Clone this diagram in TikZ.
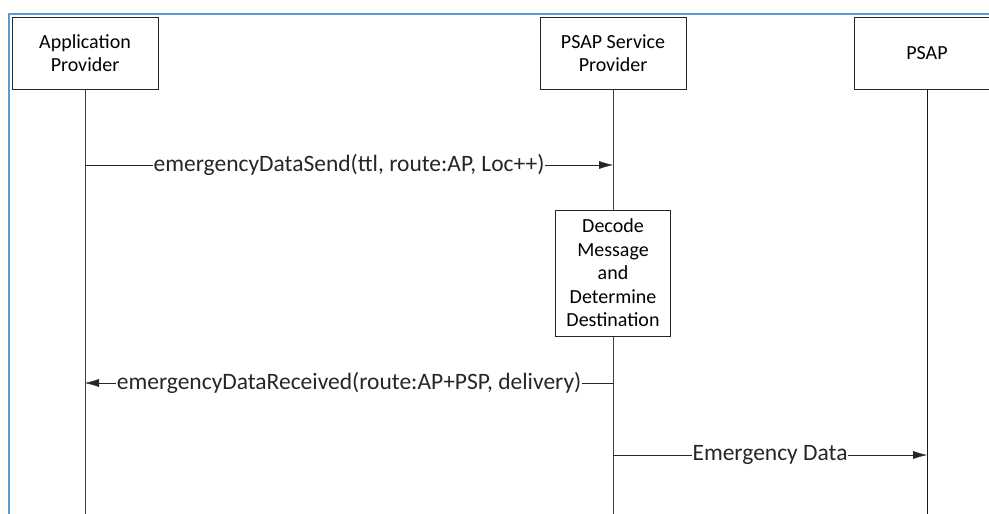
\documentclass[tikz,border=0pt]{standalone}
\usepackage{fontspec}
\setmainfont{Carlito}
\usetikzlibrary{arrows.meta,positioning}

\begin{document}
\begin{tikzpicture}[x=1pt,y=-1pt,
		attore/.style={draw=black!85, fill=white, minimum width=146pt, minimum height=72pt, align=center, inner sep=0pt, font=\fontsize{20}{23.5}\selectfont},
		msg/.style={fill=white, inner sep=1pt, font=\fontsize{23.5}{27}\selectfont},
		freccia/.style={color=black!85, -{Latex[length=14pt,width=8pt]}}]
		\useasboundingbox (0,0) rectangle (989,514);
		\clip (0,0) rectangle (989,514);
		% cornice
		\draw[color={rgb,255:red,91;green,155;blue,213}, line width=2pt] (9,520) -- (9,14) -- (995,14);
		
		% partecipanti
		\node[attore] (app) at (85,53) {Application\\Provider};
		\node[attore] (psp) at (613,53) {PSAP Service\\Provider};
		\node[attore] (psap) at (927,53) {PSAP};
		
		\coordinate (app-fine) at (85,520);
		\coordinate (psp-fine) at (613,520);
		\coordinate (psap-fine) at (927,520);
		
		% linee di vita
		\draw[color=black!75] (app) -- (app-fine);
		\draw[color=black!75] (psp) -- (psp-fine);
		\draw[color=black!90] (psap) -- (psap-fine);
		
		\node[attore, minimum width=115pt, minimum height=126pt] (decode) at (613,273) {Decode\\Message\\and\\Determine\\Destination};
		
		% messaggi
		\coordinate (app-1) at (85,165);
		\coordinate (psp-1) at (613,165);
		\coordinate (app-2) at (85,383);
		\coordinate (psp-2) at (613,383);
		\coordinate (psp-3) at (613,455);
		\coordinate (psap-3) at (927,455);
		
		\draw[freccia] (app-1) -- (psp-1) node [msg, midway] {emergencyDataSend(ttl, route:AP, Loc++)};
		\draw[freccia] (psp-2) -- (app-2) node [msg, midway] {emergencyDataReceived(route:AP+PSP, delivery)};
		\draw[freccia] (psp-3) -- (psap-3) node [msg, midway] {Emergency Data};
	\end{tikzpicture}
\end{document}
